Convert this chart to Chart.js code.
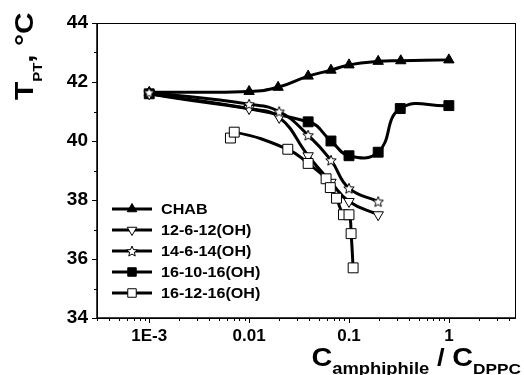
<!DOCTYPE html>
<html>
<head>
<meta charset="utf-8">
<script src="https://cdn.jsdelivr.net/npm/chart.js@4.4.1/dist/chart.umd.min.js"></script>
<style>
  html, body { margin: 0; padding: 0; background: #fff; }
  canvas { display: block; }
</style>
</head>
<body>
<canvas id="tptChart" width="524" height="375"></canvas>
<script>
// Transition temperature T_PT of DPPC vs. amphiphile / DPPC molar ratio

const seriesNames = ['CHAB', '12-6-12(OH)', '14-6-14(OH)', '16-10-16(OH)', '16-12-16(OH)'];

const chabRatio = [0.001, 0.01, 0.0195, 0.039, 0.066, 0.1, 0.196, 0.33, 1.0];
const chabTemp  = [41.65, 41.68, 41.82, 42.2, 42.4, 42.58, 42.7, 42.72, 42.75];

const g12Ratio = [0.001, 0.01, 0.02, 0.039, 0.066, 0.1, 0.196];
const g12Temp  = [41.6, 41.1, 40.8, 39.5, 38.6, 37.95, 37.5];

const g14Ratio = [0.001, 0.01, 0.02, 0.039, 0.066, 0.1, 0.196];
const g14Temp  = [41.65, 41.25, 41.0, 40.2, 39.35, 38.4, 37.95];

const g1610Ratio = [0.001, 0.039, 0.066, 0.1, 0.196, 0.326, 1.0];
const g1610Temp  = [41.6, 40.65, 40.0, 39.5, 39.62, 41.1, 41.2];

const g1612Ratio = [0.0065, 0.0071, 0.0244, 0.039, 0.059, 0.065, 0.075, 0.088, 0.1, 0.105, 0.11];
const g1612Temp  = [40.1, 40.3, 39.72, 39.24, 38.72, 38.42, 38.06, 37.5, 37.5, 36.86, 35.7];

const xTickValues = [0.001, 0.01, 0.1, 1];
const xTickLabels = ['1E-3', '0.01', '0.1', '1'];
const yTickValues = [34, 36, 38, 40, 42, 44];

const FONT = "'Liberation Sans', Arial, sans-serif";
const STRETCH = 1.15;

function pts(xs, ys) {
    return xs.map((x, i) => ({ x: x, y: ys[i] }));
}

// open five-point star used as a marker
function starMarker(r) {
    const c = document.createElement('canvas');
    const s = Math.ceil(r * 2 + 3);
    c.width = c.height = s;
    const g = c.getContext('2d');
    g.beginPath();
    for (let i = 0; i < 10; i++) {
        const rad = i % 2 ? r * 0.45 : r;
        const a = -Math.PI / 2 + i * Math.PI / 5;
        g.lineTo(s / 2 + rad * Math.cos(a), s / 2 + 0.6 + rad * Math.sin(a));
    }
    g.closePath();
    g.fillStyle = '#fff';
    g.fill();
    g.lineWidth = 1;
    g.strokeStyle = '#000';
    g.stroke();
    return c;
}
const star = starMarker(5.5);

const lineBase = {
    borderColor: '#000',
    borderWidth: 3,
    tension: 0.45,
    pointBorderColor: '#000',
    pointBorderWidth: 1,
    pointHoverRadius: 6
};

const datasets = [
    Object.assign({}, lineBase, {
        label: seriesNames[0], data: pts(chabRatio, chabTemp),
        pointStyle: 'triangle', pointRadius: 6, pointBackgroundColor: '#000', order: 4
    }),
    Object.assign({}, lineBase, {
        label: seriesNames[1], data: pts(g12Ratio, g12Temp),
        pointStyle: 'triangle', rotation: 180, pointRadius: 6, pointBackgroundColor: '#fff', order: 2
    }),
    Object.assign({}, lineBase, {
        label: seriesNames[2], data: pts(g14Ratio, g14Temp),
        pointStyle: star, pointRadius: 6, pointBackgroundColor: '#fff', order: 1
    }),
    Object.assign({}, lineBase, {
        label: seriesNames[3], data: pts(g1610Ratio, g1610Temp),
        pointStyle: 'rect', pointRadius: 7, pointBackgroundColor: '#000', order: 3
    }),
    Object.assign({}, lineBase, {
        label: seriesNames[4], data: pts(g1612Ratio, g1612Temp),
        pointStyle: 'rect', pointRadius: 7, pointBackgroundColor: '#fff', order: 0
    })
];

// draws a run of [text, size, baselineShift] pieces, stretched horizontally
function drawRuns(ctx, runs, x, y) {
    let cx = x;
    runs.forEach(([txt, size, shift]) => {
        ctx.font = 'bold ' + size + 'px ' + FONT;
        ctx.save();
        ctx.translate(cx, y + shift);
        ctx.scale(STRETCH, 1);
        ctx.fillText(txt, 0, 0);
        ctx.restore();
        cx += ctx.measureText(txt).width * STRETCH;
    });
    return cx - x;
}
function runsWidth(ctx, runs) {
    let w = 0;
    runs.forEach(([txt, size]) => {
        ctx.font = 'bold ' + size + 'px ' + FONT;
        w += ctx.measureText(txt).width * STRETCH;
    });
    return w;
}

const decorPlugin = {
    id: 'decor',
    afterDraw(chart) {
        const { ctx, chartArea: a, scales } = chart;
        const x = scales.x, y = scales.y;
        ctx.save();
        ctx.strokeStyle = '#000';

        // frame
        ctx.lineWidth = 1;
        ctx.strokeRect(a.left + 0.5, a.top + 0.5, a.right - a.left - 1, a.bottom - a.top);
        ctx.lineWidth = 1.5;
        ctx.beginPath();
        ctx.moveTo(a.left, a.top); ctx.lineTo(a.left, a.bottom); ctx.lineTo(a.right, a.bottom);
        ctx.stroke();

        // y ticks (major + minor, outward)
        ctx.lineWidth = 1;
        ctx.beginPath();
        for (let v = y.min; v <= y.max; v++) {
            const py = Math.round(y.getPixelForValue(v)) + 0.5;
            const len = v % 2 === 0 ? 5 : 3;
            ctx.moveTo(a.left - len, py); ctx.lineTo(a.left, py);
        }
        // x ticks on log decades
        for (let e = -4; e <= 0; e++) {
            for (let m = 1; m <= 9; m++) {
                const v = m * Math.pow(10, e);
                if (v < x.min || v > x.max) continue;
                const px = Math.round(x.getPixelForValue(v)) + 0.5;
                const len = m === 1 ? 5 : 3;
                ctx.moveTo(px, a.bottom); ctx.lineTo(px, a.bottom + len);
            }
        }
        ctx.stroke();

        // legend
        const lx = a.left + 15, ly = 209, step = 21;
        chart.data.datasets.forEach((ds, i) => {
            const yy = ly + i * step;
            ctx.lineWidth = 3;
            ctx.beginPath();
            ctx.moveTo(lx, yy); ctx.lineTo(lx + 40, yy);
            ctx.stroke();
            ctx.fillStyle = ds.pointBackgroundColor;
            ctx.strokeStyle = '#000';
            ctx.lineWidth = 1;
            Chart.helpers.drawPoint(ctx, {
                pointStyle: ds.pointStyle,
                rotation: ds.rotation || 0,
                radius: ds.pointStyle === 'rect' ? 6 : 5.5,
                borderWidth: 1
            }, lx + 20, yy);
            ctx.fillStyle = '#000';
            ctx.textBaseline = 'middle';
            ctx.textAlign = 'left';
            drawRuns(ctx, [[ds.label, 14, 0]], lx + 49, yy + 1);
        });

        // axis titles
        ctx.fillStyle = '#000';
        ctx.textBaseline = 'alphabetic';
        ctx.textAlign = 'left';
        const xTitle = [['C', 25, 0], ['amphiphile', 16, 8], [' / ', 24, 0], ['C', 25, 0], ['DPPC', 15, 8]];
        drawRuns(ctx, xTitle, 521 - runsWidth(ctx, xTitle), 366);

        ctx.save();
        ctx.translate(33, 100);
        ctx.rotate(-Math.PI / 2);
        drawRuns(ctx, [['T', 26, 0], ['PT', 13, 9], [',', 26, 0], [' \u00B0C', 26, 0]], 0, 0);
        ctx.restore();

        ctx.restore();
    }
};

new Chart(document.getElementById('tptChart'), {
    type: 'line',
    data: { datasets: datasets },
    options: {
        responsive: false,
        animation: false,
        devicePixelRatio: 1,
        layout: { padding: { top: 23, right: 2, left: 0, bottom: 0 } },
        plugins: { legend: { display: false }, tooltip: { enabled: false } },
        scales: {
            x: {
                type: 'logarithmic',
                min: 0.0003,
                max: 4.7,
                grid: { display: false, drawTicks: false },
                border: { display: false },
                afterBuildTicks: (s) => { s.ticks = xTickValues.map(v => ({ value: v })); },
                afterFit: (s) => { s.height = 57; },
                ticks: {
                    autoSkip: false, maxRotation: 0, padding: 8, color: '#000',
                    font: { family: FONT, size: 17, weight: 'bold' },
                    callback: (v) => {
                        const i = xTickValues.findIndex(t => Math.abs(t - v) < t * 1e-6);
                        return i >= 0 ? xTickLabels[i] : '';
                    }
                }
            },
            y: {
                min: 34,
                max: 44,
                grid: { display: false, drawTicks: false },
                border: { display: false },
                afterBuildTicks: (s) => { s.ticks = yTickValues.map(v => ({ value: v })); },
                afterFit: (s) => { s.width = 97; },
                ticks: {
                    padding: 9, color: '#000',
                    font: { family: FONT, size: 19, weight: 'bold' }
                }
            }
        }
    },
    plugins: [decorPlugin]
});
</script>
</body>
</html>
